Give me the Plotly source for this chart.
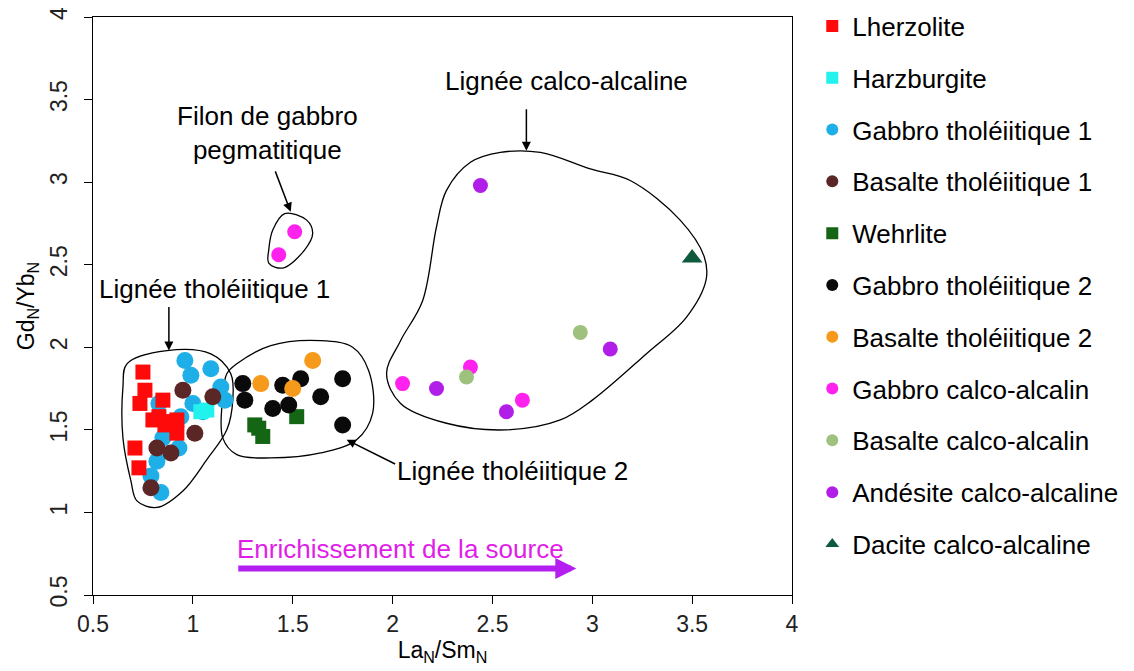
import plotly.graph_objects as go

# ---------------- data ----------------
lherz_x = [0.75, 0.76, 0.735, 0.85, 0.80, 0.92, 0.86, 0.92, 0.71, 0.73, 0.83, 0.89]
lherz_y = [1.85, 1.74, 1.66, 1.68, 1.56, 1.56, 1.53, 1.48, 1.39, 1.27, 1.58, 1.55]

harz_x = [1.04, 1.07]
harz_y = [1.61, 1.62]

gab1_x = [0.96, 1.09, 0.99, 1.14, 1.16, 0.83, 1.00, 0.94, 0.85, 0.93, 0.82, 0.79, 0.84, 1.05, 0.89]
gab1_y = [1.92, 1.87, 1.83, 1.76, 1.68, 1.66, 1.66, 1.58, 1.45, 1.39, 1.31, 1.22, 1.12, 1.61, 1.50]

bas1_x = [0.95, 1.10, 1.01, 0.82, 0.89, 0.79]
bas1_y = [1.74, 1.70, 1.48, 1.39, 1.36, 1.15]

wehr_x = [1.31, 1.35, 1.52, 1.33]
wehr_y = [1.53, 1.46, 1.58, 1.51]

gab2_x = [1.25, 1.26, 1.45, 1.54, 1.64, 1.75, 1.40, 1.48, 1.75]
gab2_y = [1.78, 1.68, 1.77, 1.81, 1.70, 1.81, 1.63, 1.65, 1.53]

bas2_x = [1.60, 1.34, 1.50]
bas2_y = [1.92, 1.78, 1.75]

gabca_x = [2.05, 2.39, 2.65, 1.51, 1.43]
gabca_y = [1.78, 1.88, 1.68, 2.70, 2.56]

basca_x = [2.94, 2.37]
basca_y = [2.09, 1.82]

and_x = [2.44, 3.09, 2.22, 2.57]
and_y = [2.98, 1.99, 1.75, 1.61]

dac_x = [3.50]
dac_y = [2.54]

# enclosing field outlines (data units)
thol1_x = [0.67, 0.87, 1.09, 1.19, 1.20, 1.17, 1.07, 0.95, 0.82, 0.72, 0.69, 0.65, 0.65, 0.67]
thol1_y = [1.90, 1.98, 1.96, 1.84, 1.68, 1.50, 1.32, 1.13, 1.03, 1.07, 1.19, 1.45, 1.76, 1.90]

thol2_x = [1.22, 1.39, 1.64, 1.80, 1.88, 1.90, 1.82, 1.64, 1.39, 1.22, 1.15, 1.15, 1.17, 1.22]
thol2_y = [1.90, 2.01, 2.04, 2.00, 1.86, 1.60, 1.44, 1.36, 1.33, 1.35, 1.45, 1.70, 1.84, 1.90]

calc_x = [2.27, 2.39, 2.54, 2.74, 2.99, 3.19, 3.44, 3.56, 3.57, 3.47, 3.27, 3.00, 2.84, 2.57,
          2.27, 2.04, 1.97, 2.04, 2.15, 2.22, 2.27]
calc_y = [2.95, 3.12, 3.18, 3.18, 3.08, 3.01, 2.77, 2.55, 2.41, 2.18, 1.96, 1.68, 1.56, 1.50,
          1.54, 1.66, 1.84, 2.04, 2.28, 2.73, 2.95]

filon_x = [1.46, 1.57, 1.60, 1.56, 1.45, 1.38, 1.38, 1.40, 1.46]
filon_y = [2.81, 2.77, 2.69, 2.59, 2.48, 2.51, 2.59, 2.71, 2.81]

x_ticks = [0.5, 1, 1.5, 2, 2.5, 3, 3.5, 4]
y_ticks = [0.5, 1, 1.5, 2, 2.5, 3, 3.5, 4]

FONT = "Liberation Sans, Arial, sans-serif"
TXT = 26

fig = go.Figure()

for xs, ys in [(thol1_x, thol1_y), (thol2_x, thol2_y), (calc_x, calc_y), (filon_x, filon_y)]:
    fig.add_trace(go.Scatter(x=xs, y=ys, mode="lines", line=dict(color="black", width=1.3,
                             shape="spline", smoothing=1.0), showlegend=False, hoverinfo="skip"))

series = [
    ("Lherzolite", lherz_x, lherz_y, "square", "#ff0a0a", 15),
    ("Harzburgite", harz_x, harz_y, "square", "#22f2ee", 15),
    ("Gabbro tholéiitique 1", gab1_x, gab1_y, "circle", "#1eaee8", 17),
    ("Basalte tholéiitique 1", bas1_x, bas1_y, "circle", "#5a2626", 17),
    ("Wehrlite", wehr_x, wehr_y, "square", "#146614", 15),
    ("Gabbro tholéiitique 2", gab2_x, gab2_y, "circle", "#0a0a0a", 17),
    ("Basalte tholéiitique 2", bas2_x, bas2_y, "circle", "#f59a1a", 17),
    ("Gabbro calco-alcalin", gabca_x, gabca_y, "circle", "#ff22ee", 15),
    ("Basalte calco-alcalin", basca_x, basca_y, "circle", "#9ec27e", 15),
    ("Andésite calco-alcaline", and_x, and_y, "circle", "#b01ee8", 15),
    ("Dacite calco-alcaline", dac_x, dac_y, "triangle-up", "#0d5a3c", 18),
]
draw_order = [2, 0, 1, 3, 4, 5, 6, 7, 8, 9, 10]

for i in draw_order:
    name, xs, ys, sym, col, sz = series[i]
    fig.add_trace(go.Scatter(x=xs, y=ys, mode="markers", name=name, legendgroup=f"g{i}",
                             legendrank=100 + i,
                             marker=dict(symbol=sym, color=col, size=sz, line=dict(width=0))))

ann = [
    dict(x=2.67, y=3.19, ax=0, ay=-43, text="", showarrow=True, arrowhead=2, arrowsize=1.2,
         arrowwidth=1.5, arrowcolor="black"),
    dict(x=2.87, y=3.61, text="Lignée calco-alcaline", showarrow=False),
    dict(x=1.49, y=2.82, ax=-16, ay=-42, text="", showarrow=True, arrowhead=2, arrowsize=1.2,
         arrowwidth=1.5, arrowcolor="black"),
    dict(x=1.375, y=3.30, text="Filon de gabbro<br>pegmatitique", showarrow=False),
    dict(x=0.88, y=1.98, ax=0, ay=-45, text="", showarrow=True, arrowhead=2, arrowsize=1.2,
         arrowwidth=1.5, arrowcolor="black"),
    dict(x=1.11, y=2.35, text="Lignée tholéiitique 1", showarrow=False),
    dict(x=1.77, y=1.44, ax=50, ay=25, text="", showarrow=True, arrowhead=2, arrowsize=1.2,
         arrowwidth=1.5, arrowcolor="black"),
    dict(x=2.60, y=1.25, text="Lignée tholéiitique 2", showarrow=False),
    dict(x=2.04, y=0.78, text="Enrichissement de la source", showarrow=False,
         font=dict(color="#e01ee8", size=TXT, family=FONT)),
    dict(x=2.92, y=0.66, ax=1.22, ay=0.66, axref="x", ayref="y", text="", showarrow=True,
         arrowhead=2, arrowsize=0.7, arrowwidth=6, arrowcolor="#b41ef0"),
]
for a in ann:
    a.setdefault("xref", "x")
    a.setdefault("yref", "y")
    a.setdefault("font", dict(size=TXT, family=FONT, color="black"))
    fig.add_annotation(**a)

axis_common = dict(showgrid=False, zeroline=False, showline=True, linecolor="black", linewidth=1.2,
                   mirror=True, ticks="outside", ticklen=8, tickcolor="black", tickwidth=1.2,
                   automargin=False, ticklabeloverflow="allow",
                   tickfont=dict(size=23, family=FONT, color="#222"))

fig.update_xaxes(range=[0.5, 4], tickvals=x_ticks, ticktext=[f"{v:g}" for v in x_ticks],
                 title=dict(text="La<sub>N</sub>/Sm<sub>N</sub>", font=dict(size=23, family=FONT),
                            standoff=4), **axis_common)
fig.update_yaxes(range=[0.5, 4], tickvals=y_ticks, ticktext=[f"{v:g}" for v in y_ticks],
                 tickangle=-90, ticklabelstandoff=8,
                 title=dict(text="Gd<sub>N</sub>/Yb<sub>N</sub>", font=dict(size=23, family=FONT),
                            standoff=4), **axis_common)

fig.update_layout(
    width=1126, height=663,
    margin=dict(l=85, r=342, t=9, b=76, autoexpand=False),
    plot_bgcolor="white", paper_bgcolor="white",
    font=dict(family=FONT, size=TXT, color="black"),
    legend=dict(x=1.029, y=1.025, xanchor="left", yanchor="top", tracegroupgap=15,
                maxheight=660,
                font=dict(size=TXT, family=FONT, color="black"), itemsizing="constant",
                bgcolor="rgba(0,0,0,0)"),
)

fig.write_html("out.html")
